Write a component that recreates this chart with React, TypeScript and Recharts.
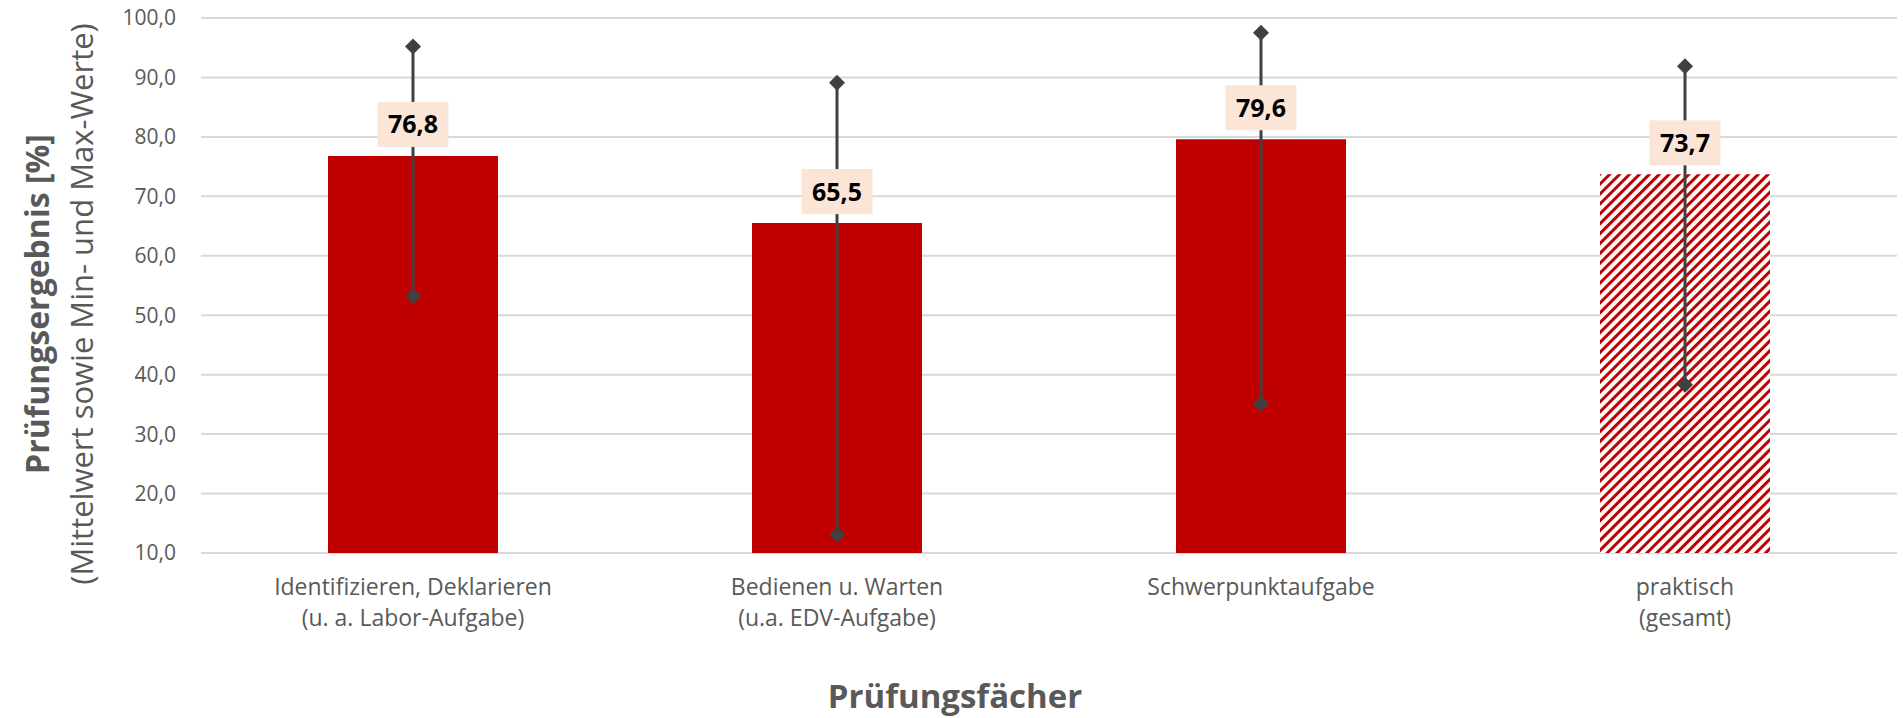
import {
  ComposedChart,
  Bar,
  Scatter,
  XAxis,
  YAxis,
  CartesianGrid,
  ErrorBar,
  LabelList,
  Cell,
} from "recharts";

const categories = [
  "Identifizieren, Deklarieren\n(u. a. Labor-Aufgabe)",
  "Bedienen u. Warten\n(u.a. EDV-Aufgabe)",
  "Schwerpunktaufgabe",
  "praktisch\n(gesamt)",
];
const means = [76.8, 65.5, 79.6, 73.7];
const mins = [53.2, 13.1, 35.1, 38.3];
const maxs = [95.2, 89.1, 97.5, 91.9];
const hatched = [false, false, false, true];
const yTicks = [10, 20, 30, 40, 50, 60, 70, 80, 90, 100];

const data = categories.map((cat, i) => ({
  cat,
  mean: means[i],
  min: mins[i],
  max: maxs[i],
  err: [means[i] - mins[i], maxs[i] - means[i]],
}));

const FONT = "'Open Sans', sans-serif";
const RED = "#C00000";
const GREY = "#595959";

const fmt = (v: number) => v.toFixed(1).replace(".", ",");

// diamond marker for min / max
const Diamond = (props: any) => {
  const { cx, cy } = props;
  if (cx == null || cy == null) return null;
  const r = 8;
  return (
    <polygon
      points={`${cx},${cy - r} ${cx + r},${cy} ${cx},${cy + r} ${cx - r},${cy}`}
      fill="#404040"
    />
  );
};

const ValueLabel = (props: any) => {
  const { x, y, width, value } = props;
  const cx = x + width / 2;
  const w = 71;
  const h = 45;
  const top = y - 9 - h;
  return (
    <g>
      <rect x={cx - w / 2} y={top} width={w} height={h} fill="#FBE5D6" />
      <text
        x={cx}
        y={top + h / 2 + 9}
        textAnchor="middle"
        fontSize={25}
        fontWeight="bold"
        fill="#000"
        fontFamily={FONT}
      >
        {fmt(value)}
      </text>
    </g>
  );
};

const CatTick = (props: any) => {
  const { x, payload } = props;
  const lines = String(payload.value).split("\n");
  return (
    <text textAnchor="middle" fontSize={23} fill={GREY} fontFamily={FONT}>
      {lines.map((l, i) => (
        <tspan key={i} x={x} y={595 + i * 31}>
          {l}
        </tspan>
      ))}
    </text>
  );
};

const XTitle = () => (
  <text
    x={955}
    y={708}
    textAnchor="middle"
    fontSize={33}
    fontWeight="bold"
    fill={GREY}
    fontFamily={FONT}
  >
    Prüfungsfächer
  </text>
);

const YTitle = () => (
  <g fontFamily={FONT} fill={GREY}>
    <text
      transform="translate(36,304) rotate(-90)"
      textAnchor="middle"
      dominantBaseline="central"
      fontSize={32}
      fontWeight="bold"
    >
      Prüfungsergebnis [%]
    </text>
    <text
      transform="translate(81,304) rotate(-90)"
      textAnchor="middle"
      dominantBaseline="central"
      fontSize={31}
    >
      (Mittelwert sowie Min- und Max-Werte)
    </text>
  </g>
);

export default function App() {
  return (
    <div style={{ position: "absolute", left: 0, top: 0, width: 1903, height: 718, background: "#fff" }}>
      <ComposedChart
        width={1903}
        height={718}
        data={data}
        margin={{ top: 18, right: 6, bottom: 0, left: 0 }}
        style={{ fontFamily: FONT }}
      >
        <defs>
          <pattern
            id="hatch"
            patternUnits="userSpaceOnUse"
            width={7}
            height={7}
            patternTransform="rotate(45)"
          >
            <rect width={7} height={7} fill="#fff" />
            <rect width={3} height={7} fill={RED} />
          </pattern>
        </defs>
        <CartesianGrid vertical={false} stroke="#D9D9D9" strokeWidth={2} />
        <XAxis
          dataKey="cat"
          height={165}
          axisLine={false}
          tickLine={false}
          interval={0}
          tick={<CatTick />}
          label={<XTitle />}
        />
        <YAxis
          width={201}
          domain={[10, 100]}
          ticks={yTicks}
          interval={0}
          axisLine={false}
          tickLine={false}
          tickSize={0}
          tickMargin={25}
          tickFormatter={fmt}
          tick={{ fill: GREY, fontSize: 21, fontFamily: FONT }}
          label={<YTitle />}
        />
        <Bar dataKey="mean" barSize={170} isAnimationActive={false}>
          {data.map((d, i) => (
            <Cell key={d.cat} fill={hatched[i] ? "url(#hatch)" : RED} />
          ))}
          <ErrorBar dataKey="err" width={0} stroke="#404040" strokeWidth={3} direction="y" />
          <LabelList dataKey="mean" content={<ValueLabel />} />
        </Bar>
        <Scatter dataKey="max" shape={<Diamond />} isAnimationActive={false} />
        <Scatter dataKey="min" shape={<Diamond />} isAnimationActive={false} />
      </ComposedChart>
    </div>
  );
}
